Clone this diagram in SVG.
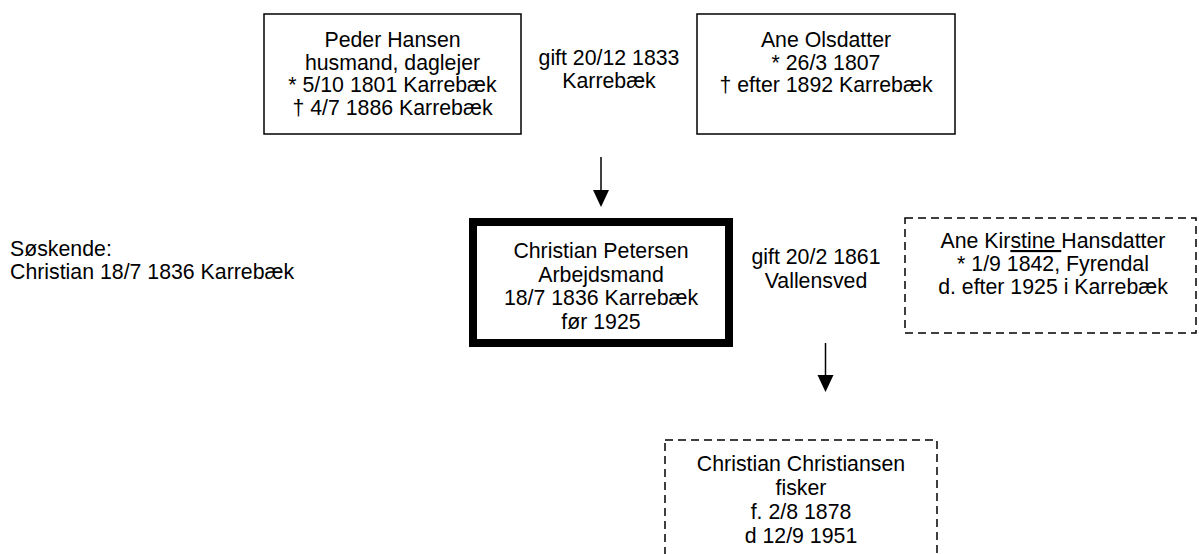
<svg xmlns="http://www.w3.org/2000/svg" width="1199" height="554" viewBox="0 0 1199 554">
<style>
text{font-family:"Liberation Sans",Arial,sans-serif;font-size:21.3px;fill:#000}
.c{text-anchor:middle}
.box{fill:#fff;stroke:#000;stroke-width:1.5}
.thick{fill:#fff;stroke:#000;stroke-width:8}
.dash{fill:#fff;stroke:#000;stroke-width:1.5;stroke-dasharray:8 5}
.conn{stroke:#000;stroke-width:1.5;fill:none}
.head{fill:#000}
</style>
<rect width="1199" height="554" fill="#fff"/>
<g id="connectors">
<line class="conn" x1="601" y1="157" x2="601" y2="191"/>
<path class="head" d="M593,190 L609,190 L601,207 z"/>
<line class="conn" x1="825.5" y1="343" x2="825.5" y2="376"/>
<path class="head" d="M817.5,375 L833.5,375 L825.5,392 z"/>
</g>
<g id="peder">
<rect class="box" x="264" y="14" width="257" height="120"/>
<text class="c" x="392.5" y="47">Peder Hansen</text>
<text class="c" x="392.5" y="69.5">husmand, daglejer</text>
<text class="c" x="392.5" y="92">* 5/10 1801 Karrebæk</text>
<text class="c" x="392.5" y="114.5">† 4/7 1886 Karrebæk</text>
</g>
<g id="marriage1">
<text class="c" x="609" y="65">gift 20/12 1833</text>
<text class="c" x="609" y="88">Karrebæk</text>
</g>
<g id="ane-olsdatter">
<rect class="box" x="697" y="14" width="258" height="120"/>
<text class="c" x="826" y="47">Ane Olsdatter</text>
<text class="c" x="826" y="69.5">* 26/3 1807</text>
<text class="c" x="826" y="92">† efter 1892 Karrebæk</text>
</g>
<g id="siblings">
<text x="10" y="256">Søskende:</text>
<text x="10" y="279">Christian 18/7 1836 Karrebæk</text>
</g>
<g id="christian-petersen">
<rect class="thick" x="473" y="222" width="256" height="121"/>
<text class="c" x="601" y="258">Christian Petersen</text>
<text class="c" x="601" y="282">Arbejdsmand</text>
<text class="c" x="601" y="305">18/7 1836 Karrebæk</text>
<text class="c" x="601" y="329">før 1925</text>
</g>
<g id="marriage2">
<text class="c" x="816" y="264">gift 20/2 1861</text>
<text class="c" x="816" y="288">Vallensved</text>
</g>
<g id="ane-kirstine">
<rect class="dash" x="905" y="218" width="291" height="115"/>
<text class="c" x="1053" y="248">Ane Kir<tspan text-decoration="underline">stine </tspan>Hansdatter</text>
<text class="c" x="1053" y="271">* 1/9 1842, Fyrendal</text>
<text class="c" x="1053" y="294">d. efter 1925 i Karrebæk</text>
</g>
<g id="christian-christiansen">
<rect class="dash" x="665" y="440" width="272" height="130"/>
<text class="c" x="801" y="471">Christian Christiansen</text>
<text class="c" x="801" y="495">fisker</text>
<text class="c" x="801" y="519">f. 2/8 1878</text>
<text class="c" x="801" y="543">d 12/9 1951</text>
</g>
</svg>
